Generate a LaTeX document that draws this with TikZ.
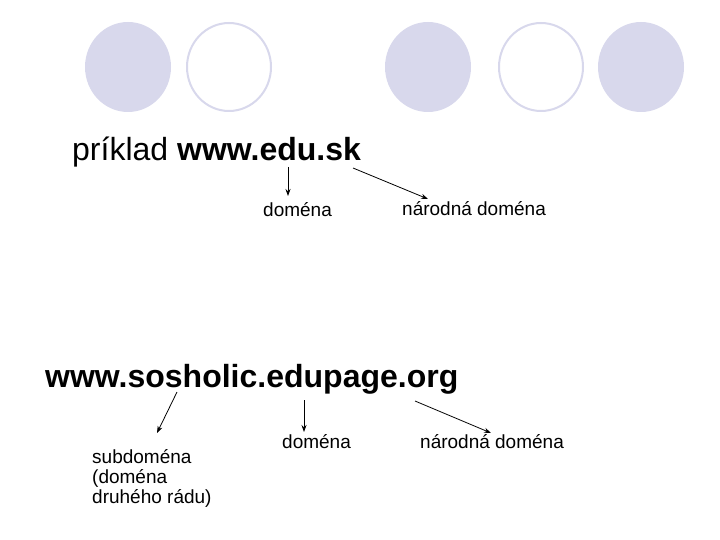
\documentclass[tikz,border=0pt]{standalone}
\usepackage{fontspec}
\setmainfont{Liberation Sans}
\usetikzlibrary{arrows.meta,calc}
\definecolor{ballcol}{RGB}{216,216,236}

\begin{document}
\begin{tikzpicture}[x=1pt,y=-1pt]
\tikzset{every node/.style={inner sep=0pt},
  ttl/.style={anchor=base west,font=\fontsize{32}{38}\selectfont},
  lbl/.style={anchor=base west,font=\fontsize{19}{20}\selectfont},
  arr/.style={line width=0.8pt,-{Stealth[length=7pt,width=5pt]}}}
\useasboundingbox (0,0) rectangle (720,540);
% balls on top
\fill [ballcol] (128,67) ellipse (43pt and 45pt);
\draw [ballcol,line width=2pt,fill=white] (229,67) ellipse (42pt and 44pt);
\fill [ballcol] (428,67) ellipse (43pt and 45pt);
\draw [ballcol,line width=2pt,fill=white] (541,67) ellipse (42pt and 44pt);
\fill [ballcol] (641,67) ellipse (43pt and 45pt);
% first example
\node [ttl] (ex1) at (72,161) {príklad \textbf{www.edu.sk}};
\node [lbl] (dom1) at (263,216) {doména};
\node [lbl] (nar1) at (402,215) {národná doména};
\coordinate (s1) at (288,167);
\coordinate (s2) at (353,168);
\draw [arr] (s1) -- ($(dom1.base west)+(25,-20)$);
\draw [arr] (s2) -- ($(nar1.base west)+(26,-16)$);
% second example
\node [ttl] (ex2) at (45,387) {\textbf{www.sosholic.edupage.org}};
\node [lbl,anchor=north west,align=left] (sub) at (92,449) {subdoména\\(doména\\druhého rádu)};
\node [lbl] (dom2) at (282,448) {doména};
\node [lbl] (nar2) at (420,448) {národná doména};
\coordinate (s3) at (177,392);
\coordinate (s4) at (304,400);
\coordinate (s5) at (415,401);
\draw [arr] (s3) -- ($(sub.north west)+(65,-16)$);
\draw [arr] (s4) -- ($(dom2.base west)+(22,-16)$);
\draw [arr] (s5) -- ($(nar2.base west)+(71,-15)$);
\end{tikzpicture}
\end{document}
